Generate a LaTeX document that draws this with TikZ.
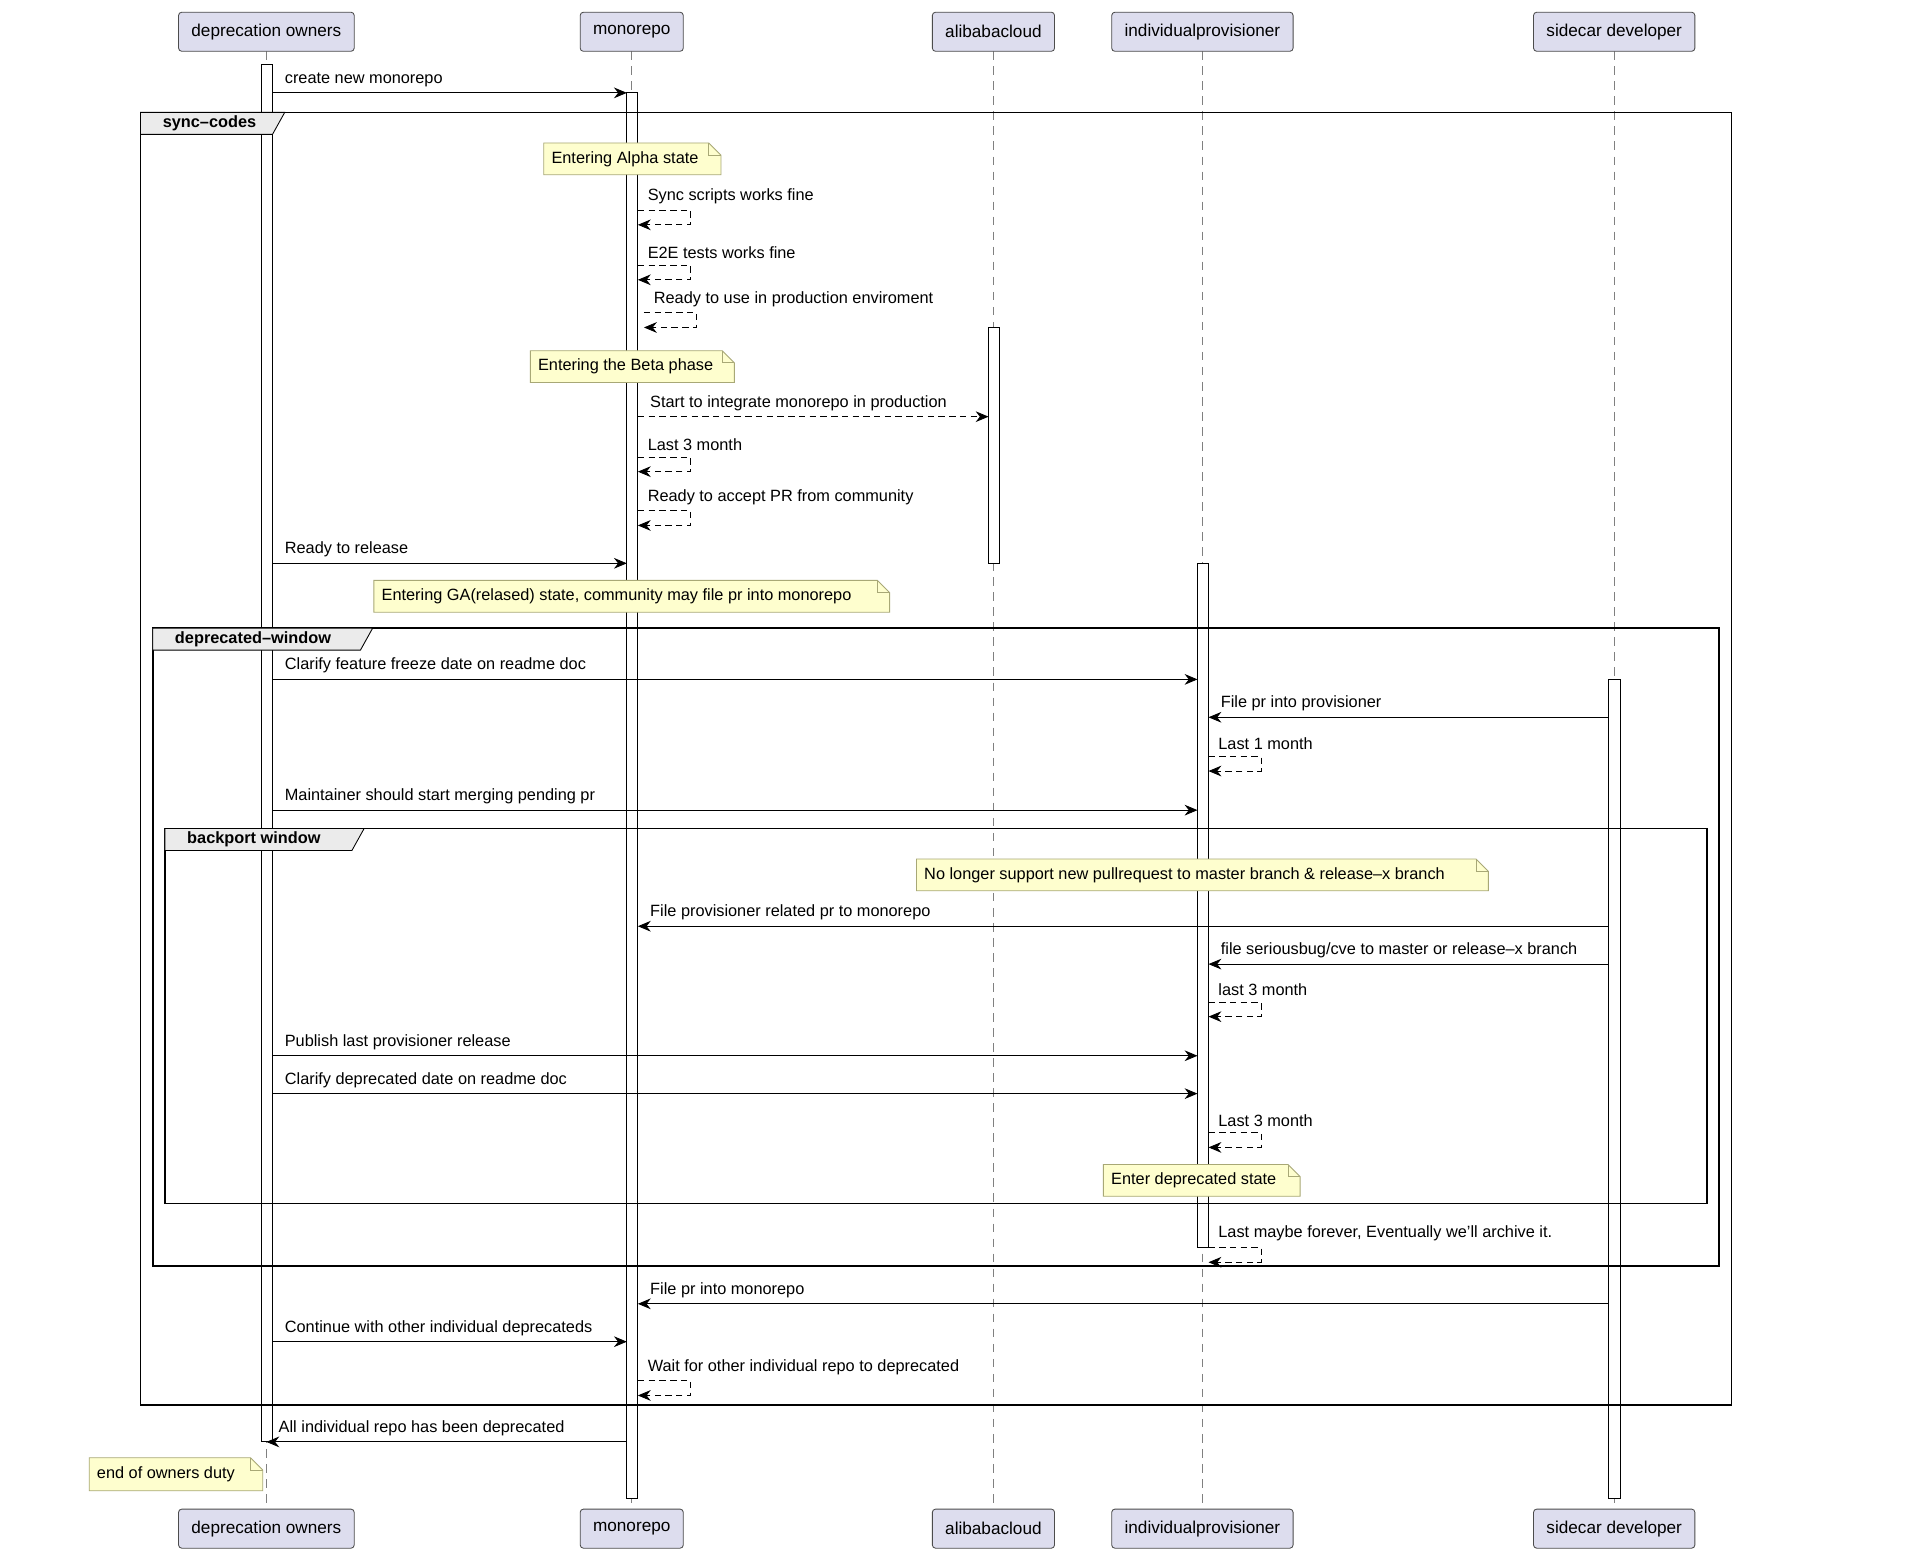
\documentclass[tikz,border=0pt]{standalone}
\usepackage{fontspec}
\setmainfont{Liberation Sans}
\usetikzlibrary{arrows.meta, calc}
\definecolor{partfill}{RGB}{221, 221, 238}
\definecolor{notefill}{RGB}{254, 254, 206}
\definecolor{notedraw}{RGB}{168, 168, 118}
\tikzset{
    participant/.style={rectangle, rounded corners=1.5pt, draw=black!70, fill=partfill, minimum height=0.64cm, inner xsep=6pt, font=\fontsize{8}{10}\selectfont},
    lifeline/.style={gray, dashed, dash pattern=on 4pt off 3pt},
    actbar/.style={draw=black, fill=white},
    msg/.style={-{Stealth[length=6pt,width=5pt]}, black},
    reply/.style={msg, densely dashed},
    msglabel/.style={font=\fontsize{7.6}{9}\selectfont, anchor=south west, inner sep=1pt},
    note/.style={font=\fontsize{7.6}{9}\selectfont, anchor=west, inner sep=0pt},
    frame/.style={draw=black, thick},
    tab/.style={draw=black, fill=black!8}
}
% message from x1 to x2 at y
\newcommand{\sendmsg}[6][msg]{%
  \coordinate (#2a) at (#3,#5); \coordinate (#2b) at (#4,#5);
  \draw[#1] (#2a) -- (#2b);
  \node[msglabel] at ({min(#3,#4)+8},#5-3) {#6};}
% self message on bar edge x at y
\newcommand{\selfmsg}[4]{%
  \coordinate (#1a) at (#2,#3); \coordinate (#1b) at (#2+43,#3);
  \coordinate (#1c) at (#2+43,#3+12); \coordinate (#1d) at (#2,#3+12);
  \draw[reply] (#1a) -- (#1b) -- (#1c) -- (#1d);
  \node[msglabel] at (#2+6,#3-3) {#4};}
\newcommand{\notebox}[6]{%
  \draw[notedraw, fill=notefill] (#2,#3) -- (#4-10,#3) -- (#4,#3+10) -- (#4,#5) -- (#2,#5) -- cycle;
  \draw[notedraw] (#4-10,#3) -- (#4-10,#3+10) -- (#4,#3+10);
  \node[note] (#6) at (#2+6,{(#3+#5)/2}) {#1};}
\newcommand{\grpframe}[7]{%
  \draw[frame] (#1,#2) rectangle (#3,#4);
  \draw[tab] (#1,#2) -- (#5,#2) -- (#5-10,#2+18) -- (#1,#2+18) -- cycle;
  \node[font=\bfseries\fontsize{7.6}{9}\selectfont, anchor=west] (#7) at (#1+12,#2+9) {#6};}
\begin{document}
\begin{tikzpicture}[x=0.02cm, y=-0.02cm]
    \useasboundingbox[fill=white] (0,0) rectangle (1568,1283);
    % participants
    \foreach \x/\name/\lbl in {218/own/deprecation owners, 517/mono/monorepo, 813/cloud/alibabacloud/aws/gcp, 984/prov/individualprovisioner, 1321/side/sidecar developer} {
        \draw[lifeline] (\x,42) -- (\x,1236);
        \node[participant] (\name top) at (\x,26) {\lbl};
        \node[participant] (\name bot) at (\x,1251) {\lbl};
    }
    % activations
    \draw[actbar] (214,53) rectangle (223,1180);
    \draw[actbar] (513,76) rectangle (522,1226);
    \draw[actbar] (809,268) rectangle (818,461);
    \draw[actbar] (980,461) rectangle (989,1021);
    \draw[actbar] (1316,556) rectangle (1326,1226);
    % frames
    \grpframe{115}{92}{1417}{1150}{233}{sync--codes}{sync}
    \grpframe{125}{514}{1407}{1036}{305}{deprecated--window}{depr}
    \grpframe{135}{678}{1397}{985}{298}{backport window}{back}
    % messages
    \sendmsg{m1}{223}{513}{76}{create new monorepo}
    \notebox{Entering Alpha state}{445}{117}{590}{143}{alpha}
    \selfmsg{s1}{522}{172}{Sync scripts works fine}
    \selfmsg{s2}{522}{217}{E2E tests works fine}
    \selfmsg{s3}{527}{256}{Ready to use in production enviroment}
    \notebox{Entering the Beta phase}{434}{287}{601}{313}{beta}
    \sendmsg[reply]{m2}{522}{809}{341}{Start to integrate monorepo in production}
    \selfmsg{s4}{522}{374}{Last 3 month}
    \selfmsg{s5}{522}{418}{Ready to accept PR from community}
    \sendmsg{m3}{223}{513}{461}{Ready to release}
    \notebox{Entering GA(relased) state, community may file pr into monorepo}{306}{475}{728}{501}{ga}
    \sendmsg{m4}{223}{980}{556}{Clarify feature freeze date on readme doc}
    \sendmsg{m5}{1316}{989}{587}{File pr into provisioner}
    \selfmsg{s6}{989}{619}{Last 1 month}
    \sendmsg{m6}{223}{980}{663}{Maintainer should start merging pending pr}
    \notebox{No longer support new pullrequest to master branch \& release--x branch}{750}{703}{1218}{729}{nolonger}
    \sendmsg{m7}{1316}{522}{758}{File provisioner related pr to monorepo}
    \sendmsg{m8}{1316}{989}{789}{file seriousbug/cve to master or release--x branch}
    \selfmsg{s7}{989}{820}{last 3 month}
    \sendmsg{m9}{223}{980}{864}{Publish last provisioner release}
    \sendmsg{m10}{223}{980}{895}{Clarify deprecated date on readme doc}
    \selfmsg{s8}{989}{927}{Last 3 month}
    \notebox{Enter deprecated state}{903}{953}{1064}{979}{enterdep}
    \selfmsg{s9}{989}{1021}{Last maybe forever, Eventually we'll archive it.}
    \sendmsg{m11}{1316}{522}{1067}{File pr into monorepo}
    \sendmsg{m12}{223}{513}{1098}{Continue with other individual deprecateds}
    \selfmsg{s10}{522}{1130}{Wait for other individual repo to deprecated}
    \sendmsg{m13}{513}{218}{1180}{All individual repo has been deprecated}
    \notebox{end of owners duty}{73}{1193}{215}{1220}{endduty}
\end{tikzpicture}
\end{document}
